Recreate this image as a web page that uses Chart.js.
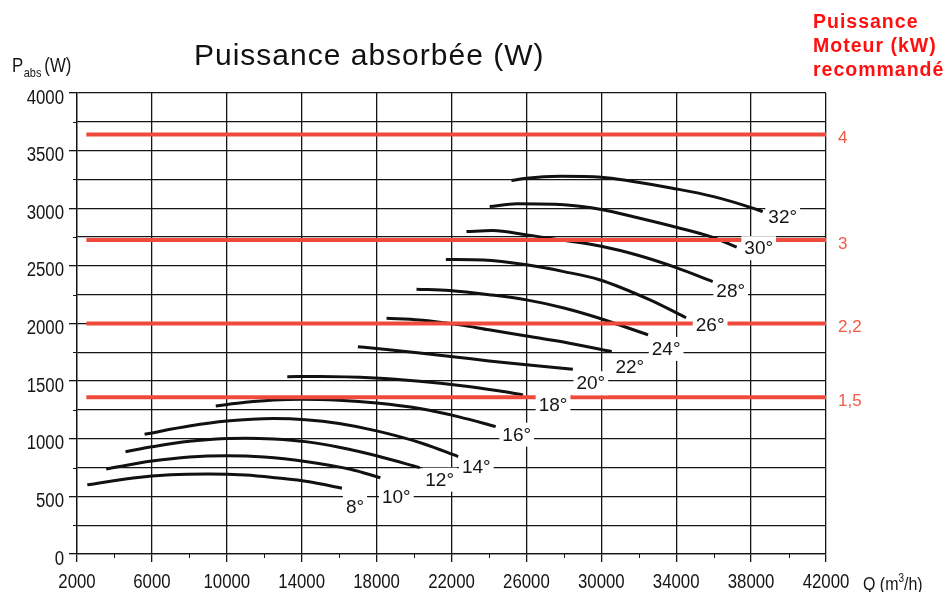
<!DOCTYPE html>
<html>
<head>
<meta charset="utf-8">
<script src="https://cdn.jsdelivr.net/npm/chart.js@4.4.1/dist/chart.umd.min.js"></script>
<style>
  html, body { margin: 0; padding: 0; background: #fff; overflow: hidden; }
  #wrap { position: relative; width: 946px; height: 592px; }
</style>
</head>
<body>
<div id="wrap"><canvas id="c" width="946" height="592"></canvas></div>
<script>
// Absorbed power P (W) versus flow Q (m3/h), one curve per blade angle
const angleLabels = ['8°', '10°', '12°', '14°', '16°', '18°', '20°', '22°', '24°', '26°', '28°', '30°', '32°'];

const q8  = [2550, 5000, 7000, 9000, 11000, 12600, 14400, 16150];
const p8  = [600, 660, 688, 695, 686, 662, 627, 570];
const q10 = [3560, 6000, 8000, 10000, 12000, 14200, 16600, 18200];
const p10 = [738, 806, 842, 853, 842, 803, 735, 662];
const q12 = [4590, 6000, 8000, 10000, 11000, 12500, 14200, 16000, 18000, 20300];
const p12 = [888, 930, 978, 1002, 1005, 998, 975, 926, 852, 749];
const q14 = [5610, 8000, 10000, 12500, 14200, 16000, 18000, 20500, 22360];
const p14 = [1039, 1110, 1153, 1175, 1165, 1132, 1068, 957, 845];
const q16 = [9410, 11000, 12500, 14000, 16000, 18000, 20300, 22400, 24360];
const p16 = [1285, 1316, 1336, 1343, 1334, 1310, 1262, 1190, 1105];
const q18 = [13230, 15000, 17900, 20300, 22440, 24500, 25820];
const p18 = [1539, 1540, 1527, 1499, 1463, 1416, 1380];
const q20 = [17000, 18000, 20300, 22440, 24000, 26000, 28480];
const p20 = [1799, 1783, 1745, 1705, 1675, 1642, 1603];
const q22 = [18530, 20300, 22440, 24000, 26000, 28300, 30560];
const p22 = [2046, 2031, 1988, 1945, 1892, 1829, 1756];
const q24 = [20130, 21900, 24000, 26000, 28000, 29900, 32500];
const p24 = [2298, 2286, 2250, 2205, 2135, 2046, 1901];
const q26 = [21700, 23700, 26000, 28000, 29900, 32600, 34530];
const p26 = [2555, 2550, 2509, 2450, 2380, 2205, 2050];
const q28 = [22800, 24200, 26000, 27800, 30000, 32000, 34000, 35950];
const p28 = [2798, 2806, 2769, 2726, 2670, 2590, 2485, 2364];
const q30 = [24040, 25500, 28000, 30000, 32000, 34000, 36000, 37230];
const p30 = [3015, 3038, 3030, 2990, 2915, 2835, 2745, 2662];
const q32 = [25200, 26000, 27800, 30000, 31700, 33800, 36000, 38000, 38620];
const p32 = [3240, 3261, 3278, 3270, 3232, 3174, 3101, 3006, 2971];

// Recommended motor power (kW) and the matching absorbed-power limit (W)
const motorKW    = ['4', '3', '2,2', '1,5'];
const motorLimit = [3640, 2725, 2000, 1360];
const motorFrom  = 2500;
const motorTo    = 42000;

const flows  = [q8, q10, q12, q14, q16, q18, q20, q22, q24, q26, q28, q30, q32];
const powers = [p8, p10, p12, p14, p16, p18, p20, p22, p24, p26, p28, p30, p32];

// where each angle label sits, relative to the end of its curve (px)
const labelShift = [[13, 18], [16, 19], [20, 12], [18, 10], [21, 8], [30, 10], [18, 14],
                    [18, 15], [18, 14], [24, 7], [18, 9], [22, 1], [20, 5]];

const SANS = "'Liberation Sans', Arial, sans-serif";
const RED_LINE = '#ef4a3b';
const INK = '#151515';
const CLEAR = 'rgba(0,0,0,0)';
const SQUEEZE = 0.84;   // narrow lettering of the axis texts

const curveSets = flows.map((qs, i) => ({
  label: angleLabels[i],
  data: qs.map((q, k) => ({ x: q, y: powers[i][k] })),
  borderColor: '#111',
  borderWidth: 3,
  pointRadius: 0,
  fill: false,
  cubicInterpolationMode: 'monotone',
  order: 2
}));

const motorSets = motorLimit.map((p, i) => ({
  label: motorKW[i] + ' kW',
  data: [{ x: motorFrom, y: p }, { x: motorTo, y: p }],
  borderColor: RED_LINE,
  borderWidth: 4,
  pointRadius: 0,
  fill: false,
  order: 1
}));

// text drawn with a horizontal squeeze; align: 'left' | 'center' | 'right'
function narrowText(ctx, text, x, y, align) {
  const w = ctx.measureText(text).width * SQUEEZE;
  const left = align === 'center' ? x - w / 2 : align === 'right' ? x - w : x;
  ctx.save();
  ctx.translate(left, y);
  ctx.scale(SQUEEZE, 1);
  ctx.textAlign = 'left';
  ctx.fillText(text, 0, 0);
  ctx.restore();
  return w;
}

const overlay = {
  id: 'overlay',
  afterDraw(chart) {
    const { ctx, chartArea: a, scales: { x, y } } = chart;
    ctx.save();

    // minor tick marks on both axes
    ctx.strokeStyle = INK;
    ctx.lineWidth = 1;
    ctx.beginPath();
    for (let v = 4000; v < 42000; v += 4000) {
      const px = Math.round(x.getPixelForValue(v)) + 0.5;
      ctx.moveTo(px, a.bottom);
      ctx.lineTo(px, a.bottom + 4);
    }
    for (let v = 250; v < 4000; v += 500) {
      const py = Math.round(y.getPixelForValue(v)) + 0.5;
      ctx.moveTo(a.left - 4, py);
      ctx.lineTo(a.left, py);
    }
    ctx.stroke();

    // tick values
    ctx.fillStyle = INK;
    ctx.font = '20px ' + SANS;
    ctx.textBaseline = 'alphabetic';
    x.ticks.forEach((t) => {
      if ((t.value - 2000) % 4000 === 0) {
        narrowText(ctx, String(t.value), x.getPixelForValue(t.value), a.bottom + 34, 'center');
      }
    });
    y.ticks.forEach((t) => {
      if (t.value % 500 === 0) {
        narrowText(ctx, String(t.value), a.left - 13, y.getPixelForValue(t.value) + 10.5, 'right');
      }
    });

    // axis titles
    let px = 12;
    ctx.font = '20px ' + SANS;
    px += narrowText(ctx, 'P', px, 72, 'left') * 1.05;
    ctx.font = '13px ' + SANS;
    px += narrowText(ctx, 'abs', px, 77, 'left') + 3;
    ctx.font = '20px ' + SANS;
    narrowText(ctx, '(W)', px, 72, 'left');

    let qx = 863;
    ctx.font = '19px ' + SANS;
    qx += narrowText(ctx, 'Q (m', qx, 590, 'left');
    ctx.font = '12px ' + SANS;
    qx += narrowText(ctx, '3', qx, 582, 'left');
    ctx.font = '19px ' + SANS;
    narrowText(ctx, '/h)', qx, 590, 'left');

    // blade-angle labels on a white patch at the end of each curve
    ctx.font = '19px ' + SANS;
    ctx.textAlign = 'center';
    ctx.textBaseline = 'middle';
    flows.forEach((qs, i) => {
      const last = qs.length - 1;
      const cx = x.getPixelForValue(qs[last]) + labelShift[i][0];
      const cy = y.getPixelForValue(powers[i][last]) + labelShift[i][1];
      const w = ctx.measureText(angleLabels[i]).width + 6;
      ctx.fillStyle = '#fff';
      ctx.fillRect(cx - w / 2, cy - 12, w, 24);
      ctx.fillStyle = INK;
      ctx.fillText(angleLabels[i], cx, cy + 1);
    });

    // motor power values on the right
    ctx.font = '17px ' + SANS;
    ctx.textAlign = 'left';
    ctx.fillStyle = '#f05a48';
    motorLimit.forEach((p, i) => {
      ctx.fillText(motorKW[i], a.right + 12, y.getPixelForValue(p) + 4);
    });

    // heading of the motor column
    ctx.font = 'bold 19.5px ' + SANS;
    ctx.letterSpacing = '1px';
    ctx.fillStyle = '#ff1010';
    ctx.textBaseline = 'alphabetic';
    ctx.fillText('Puissance', 813, 28);
    ctx.fillText('Moteur (kW)', 813, 52);
    ctx.fillText('recommandé', 813, 76);

    // chart title
    ctx.font = '30px ' + SANS;
    ctx.letterSpacing = '1px';
    ctx.fillStyle = '#111';
    ctx.fillText('Puissance absorbée (W)', 194, 65);
    ctx.letterSpacing = '0px';

    ctx.restore();
  }
};

new Chart(document.getElementById('c'), {
  type: 'line',
  data: { datasets: [...curveSets, ...motorSets] },
  options: {
    responsive: false,
    animation: false,
    devicePixelRatio: 1,
    layout: { padding: { top: 93, right: 120, left: 0, bottom: 0 } },
    plugins: { legend: { display: false }, tooltip: { enabled: false }, title: { display: false } },
    scales: {
      x: {
        type: 'linear',
        min: 2000,
        max: 42000,
        afterFit(scale) { scale.height = 38; },
        border: { display: true, color: INK, width: 1.3 },
        grid: {
          color: (c) => ((c.tick.value - 2000) % 4000 === 0 ? INK : CLEAR),
          lineWidth: 1.3,
          tickLength: 8
        },
        ticks: {
          stepSize: 2000,
          autoSkip: false,
          maxRotation: 0,
          color: CLEAR,
          font: { family: SANS, size: 16 },
          callback: (v) => ((v - 2000) % 4000 === 0 ? String(v) : '')
        }
      },
      y: {
        min: 0,
        max: 4000,
        afterFit(scale) { scale.width = 77; },
        border: { display: true, color: INK, width: 1.3 },
        grid: {
          color: INK,
          lineWidth: 1.3,
          tickLength: 8,
          tickColor: (c) => (c.tick.value % 500 === 0 ? INK : CLEAR)
        },
        ticks: {
          stepSize: 250,
          autoSkip: false,
          color: CLEAR,
          font: { family: SANS, size: 16 },
          callback: (v) => (v % 500 === 0 ? String(v) : '')
        }
      }
    }
  },
  plugins: [overlay]
});
</script>
</body>
</html>
